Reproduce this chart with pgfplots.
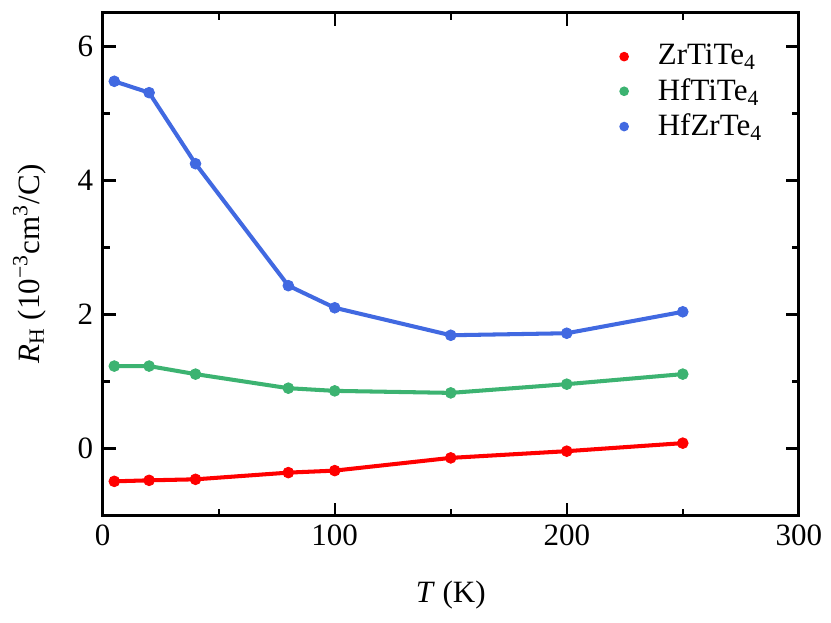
\documentclass[border=0pt]{standalone}
\usepackage{pgfplots}
\pgfplotsset{compat=1.18}
\usepackage{fontspec}
\IfFontExistsTF{LiberationSerif-Regular.ttf}{%
\setmainfont{LiberationSerif}[Extension=.ttf,UprightFont=*-Regular,ItalicFont=*-Italic,BoldFont=*-Bold,BoldItalicFont=*-BoldItalic]}{%
\setmainfont{Liberation Serif}}
\definecolor{cred}{RGB}{255,0,0}
\definecolor{cgreen}{RGB}{60,179,113}
\definecolor{cblue}{RGB}{65,105,225}
\begin{document}
\begin{tikzpicture}
\path (-38.11pt,-39.59pt) rectangle (269.36pt,191.29pt);
\begin{axis}[
  at={(0,0)}, anchor=south west,
  scale only axis, width=258.3pt, height=186.5pt,
  xmin=0, xmax=300, ymin=-1, ymax=6.5,
  xtick={0,100,200,300}, ytick={0,2,4,6},
  minor xtick={50,150,250}, minor ytick={-1,1,3,5},
  tick align=inside, xtick pos=both, ytick pos=both,
  major tick length=4.8pt, minor tick length=2.6pt,
  every tick/.style={line width=0.9pt, black},
  axis line style={line width=1.1pt},
  /pgf/number format/assume math mode=true,
  tick label style={font=\fontsize{11.5}{13}\selectfont},
  label style={font=\fontsize{11.5}{13}\selectfont},
  xlabel={\textit{T} (K)},
  ylabel={\textit{R}\textsubscript{H} (10\textsuperscript{−3}cm\textsuperscript{3}/C)},
  xlabel style={yshift=-6pt},
  ylabel style={yshift=5pt},
  legend style={draw=none, fill=none, at={(0.968,0.96)}, anchor=north east,
    font=\fontsize{11.5}{13}\selectfont, row sep=-0.5pt},
  legend cell align=left,
  legend image code/.code={\path[draw=none,fill=none] (-3pt,0) -- (10.5pt,0); \fill[#1, draw=none] (0pt,0pt) circle (1.8pt);},
  every axis plot/.append style={line width=1.5pt, mark=*, mark size=2.0pt},
]
\addplot[cred, mark options={fill=cred, draw=cred, line width=0.3pt}] coordinates {
(5,-0.49) (20,-0.475) (40,-0.46) (80,-0.36) (100,-0.33) (150,-0.14) (200,-0.04) (250,0.08)};
\addlegendentry{ZrTiTe\textsubscript{4}}
\addplot[cgreen, mark options={fill=cgreen, draw=cgreen, line width=0.3pt}] coordinates {
(5,1.23) (20,1.23) (40,1.11) (80,0.90) (100,0.86) (150,0.83) (200,0.96) (250,1.11)};
\addlegendentry{HfTiTe\textsubscript{4}}
\addplot[cblue, mark options={fill=cblue, draw=cblue, line width=0.3pt}] coordinates {
(5,5.48) (20,5.31) (40,4.25) (80,2.43) (100,2.10) (150,1.69) (200,1.72) (250,2.04)};
\addlegendentry{HfZrTe\textsubscript{4}}
\end{axis}
\end{tikzpicture}
\end{document}
